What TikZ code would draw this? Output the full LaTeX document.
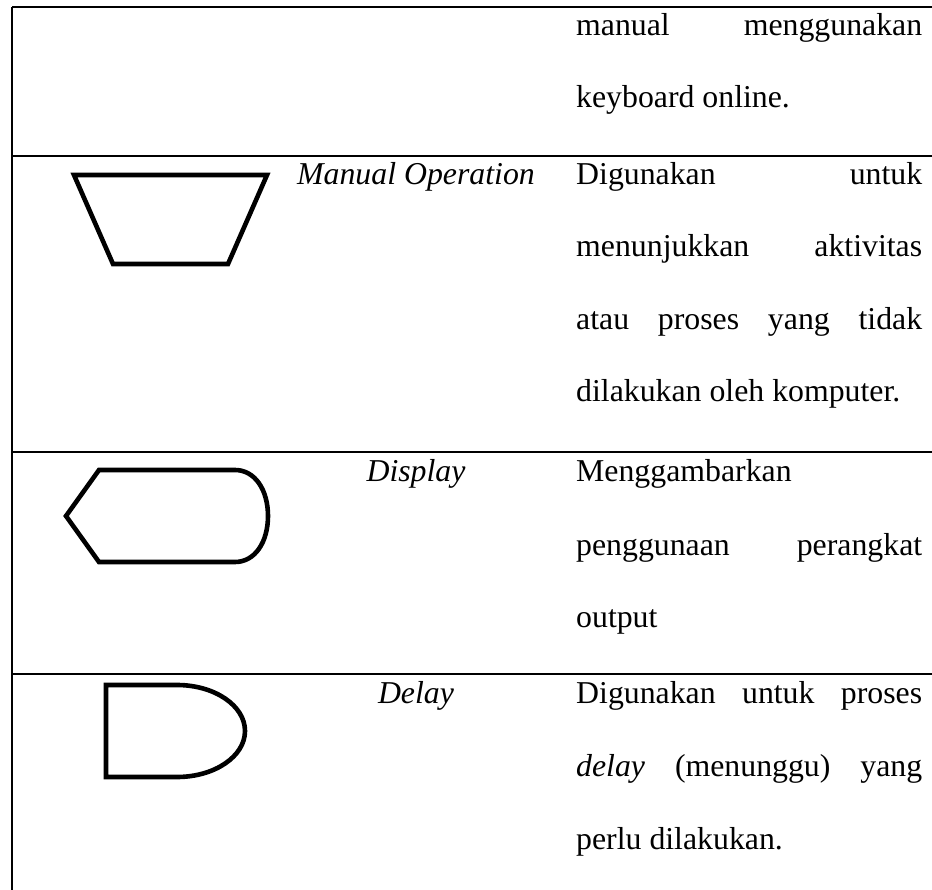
\documentclass[tikz,border=0pt]{standalone}
\usepackage{fontspec}
\setmainfont{Liberation Serif}
\begin{document}
\begin{tikzpicture}[x=1pt,y=-1pt,
  rule/.style={line width=2.2pt},
  shapeline/.style={line width=4.6pt,line join=miter},
  txt/.style={inner sep=0pt,anchor=base west,font=\fontsize{31.8}{38}\selectfont},
  lbl/.style={inner sep=0pt,anchor=base,font=\fontsize{31.8}{38}\selectfont\itshape}]
\useasboundingbox (0,0) rectangle (932,890);
% table rules
\coordinate (tl) at (12,7);
\coordinate (tr) at (932,7);
\coordinate (bl) at (12,890);
\draw[rule] (tl) -- (tr);
\draw[rule] (tl) -- (bl);
\draw[rule] (12,156) -- (932,156);
\draw[rule] (12,452) -- (932,452);
\draw[rule] (12,674) -- (932,674);
% shapes
\draw[shapeline] (74,175) -- (267,175) -- (228,264) -- (113,264) -- cycle;
\draw[shapeline] (66,516) -- (99,470) -- (235,470)
  .. controls (255,470) and (268,490) .. (268,516)
  .. controls (268,542) and (255,562) .. (235,562) -- (99,562) -- cycle;
\draw[shapeline] (106,685) -- (177,685) arc[start angle=90,end angle=-90,x radius=68,y radius=-46] -- (106,777) -- cycle;
% column 2 labels
\node[lbl] (l1) at (416,185) {Manual Operation};
\node[lbl] (l2) at (416,482) {Display};
\node[lbl] (l3) at (416,703) {Delay};
% column 3 text
\def\W{346pt}
\node[txt] (a1) at (576,36) {\hbox to \W{manual\hfill menggunakan}};
\node[txt] (a2) at (576,108) {keyboard online.};
\node[txt] (b1) at (576,185) {\hbox to \W{Digunakan\hfill untuk}};
\node[txt] (b2) at (576,257) {\hbox to \W{menunjukkan\hfill aktivitas}};
\node[txt] (b3) at (576,330) {\hbox to \W{atau\hfill proses\hfill yang\hfill tidak}};
\node[txt] (b4) at (576,402) {dilakukan oleh komputer.};
\node[txt] (c1) at (576,482) {Menggambarkan};
\node[txt] (c2) at (576,555) {\hbox to \W{penggunaan\hfill perangkat}};
\node[txt] (c3) at (576,627) {output};
\node[txt] (d1) at (576,703) {\hbox to \W{Digunakan\hfill untuk\hfill proses}};
\node[txt] (d2) at (576,776) {\hbox to \W{\textit{delay}\hfill (menunggu)\hfill yang}};
\node[txt] (d3) at (576,849) {perlu dilakukan.};
\end{tikzpicture}
\end{document}
